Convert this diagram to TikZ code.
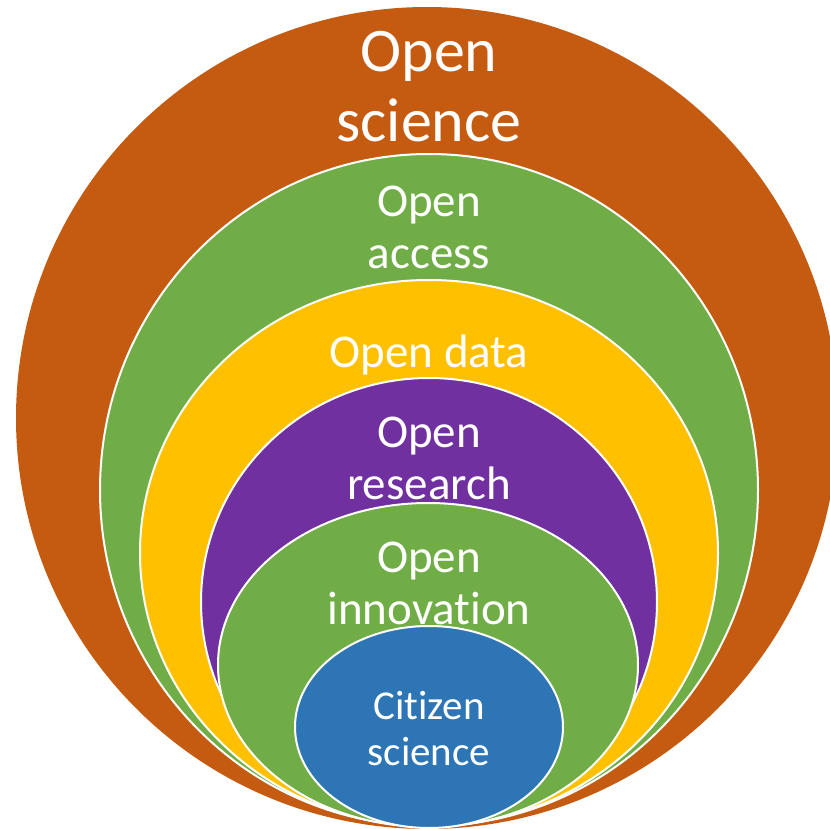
\documentclass[tikz,border=0pt]{standalone}
\usepackage{fontspec}
\setmainfont[Ligatures=NoCommon]{Carlito}
\definecolor{scibrown}{HTML}{C55A11}
\definecolor{accgreen}{HTML}{70AD47}
\definecolor{datayellow}{HTML}{FFC000}
\definecolor{respurple}{HTML}{7030A0}
\definecolor{citblue}{HTML}{2E75B6}
\tikzset{
  ring/.style={draw=white, line width=2pt},
  lbl/.style={text=white, align=center, anchor=base, inner sep=0pt},
  big/.style={font=\fontsize{62}{70}\selectfont},
  mid/.style={font=\fontsize{47}{52}\selectfont},
  small/.style={font=\fontsize{41}{46}\selectfont}
}
\begin{document}
\begin{tikzpicture}[x=1pt,y=-1pt]

        \useasboundingbox (0,0) rectangle (830,829);
        \clip (0,0) rectangle (830,829);

        % nested rings, all touching at the bottom
        \fill[scibrown] (427,418) circle[radius=411];
        \draw[ring, fill=accgreen]   (429,490) ellipse[x radius=329, y radius=336];
        \draw[ring, fill=datayellow] (429,553) ellipse[x radius=289, y radius=273];
        \draw[ring, fill=respurple]  (429,602) ellipse[x radius=228, y radius=224];
        \draw[ring, fill=accgreen]   (428,665) ellipse[x radius=210, y radius=162];
        \draw[ring, fill=citblue]    (429,727) ellipse[x radius=134, y radius=101];

        % labels, placed at the baseline of their last line
        \node[lbl, big] (sci)  at (429,142) {Open\\science};
        \node[lbl, mid] (acc)  at (429,269) {Open\\access};
        \node[lbl, mid] (data) at (429,367) {Open data};
        \node[lbl, mid] (res)  at (429,499) {Open\\research};
        \node[lbl, mid] (inno) at (429,624) {Open\\innovation};
        \node[lbl, small] (cit) at (429,765) {Citizen\\science};

      \end{tikzpicture}
\end{document}
